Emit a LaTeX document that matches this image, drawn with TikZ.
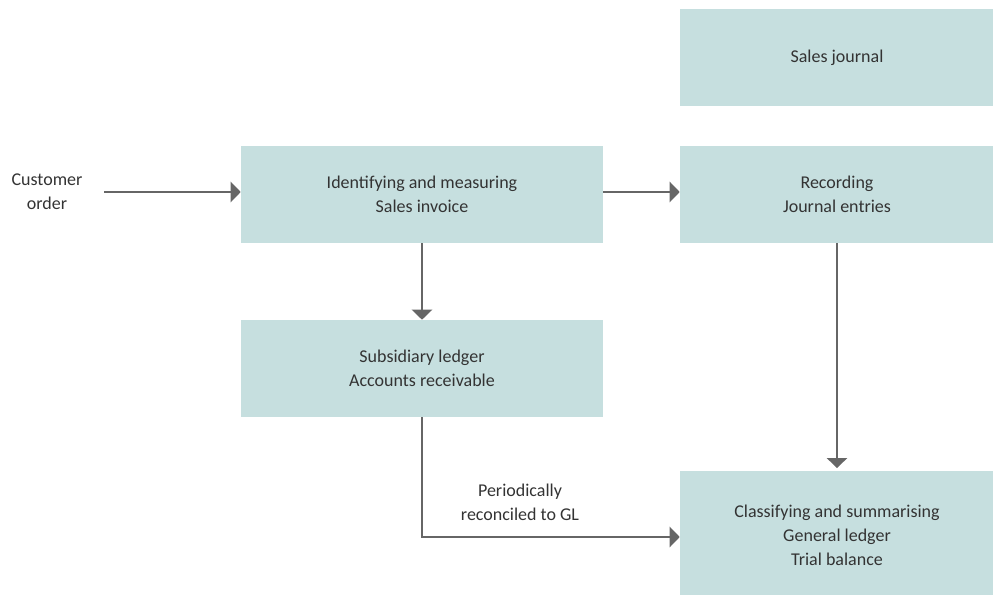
\documentclass[tikz,border=0pt]{standalone}
\usepackage{fontspec}
\setmainfont{Carlito}
\usepackage{tikz}
\usetikzlibrary{arrows.meta, positioning}

\definecolor{boxfill}{HTML}{C6DFDF}
\definecolor{linegray}{HTML}{666666}
\definecolor{textgray}{HTML}{333333}

\tikzset{
    flowbox/.style={fill=boxfill, draw=none, minimum width=271.5pt, minimum height=72.75pt,
        align=center, text=textgray, font=\fontsize{13.5}{18}\selectfont, inner sep=0pt},
    sidebox/.style={flowbox, minimum width=235.5pt},
    flowarrow/.style={draw=linegray, line width=1.8pt, -{Triangle[width=15pt, length=7.5pt]}},
    plainlabel/.style={align=center, text=textgray, font=\fontsize{13.5}{18}\selectfont}
}

\begin{document}
\begin{tikzpicture}[x=0.75pt, y=-0.75pt]
    \useasboundingbox (0,0) rectangle (993,595);

    % boxes
    \node[sidebox] (journal) at (837,57.5) {Sales journal};
    \node[flowbox] (identify) at (422,194.5) {Identifying and measuring\\Sales invoice};
    \node[sidebox] (record) at (837,194.5) {Recording\\Journal entries};
    \node[flowbox] (subledger) at (422,368.5) {Subsidiary ledger\\Accounts receivable};
    \node[sidebox, minimum height=96pt] (classify) at (837,535) {Classifying and summarising\\General ledger\\Trial balance};

    % labels
    \node[plainlabel] (order) at (47,192) {Customer\\order};
    \node[plainlabel] (reconcile) at (520,502) {Periodically\\reconciled to GL};
    \coordinate (orderend) at (104,192);
    \coordinate (corner) at (422,537);

    % connectors
    \draw[flowarrow] (orderend) -- (identify.west |- orderend);
    \draw[flowarrow] (identify.east |- orderend) -- (record.west |- orderend);
    \draw[flowarrow] (identify.south) -- (subledger.north);
    \draw[flowarrow] (record.south) -- ([yshift=2pt]classify.north);
    \draw[flowarrow] (subledger.south) -- (corner) -- (classify.west |- corner);
\end{tikzpicture}
\end{document}
